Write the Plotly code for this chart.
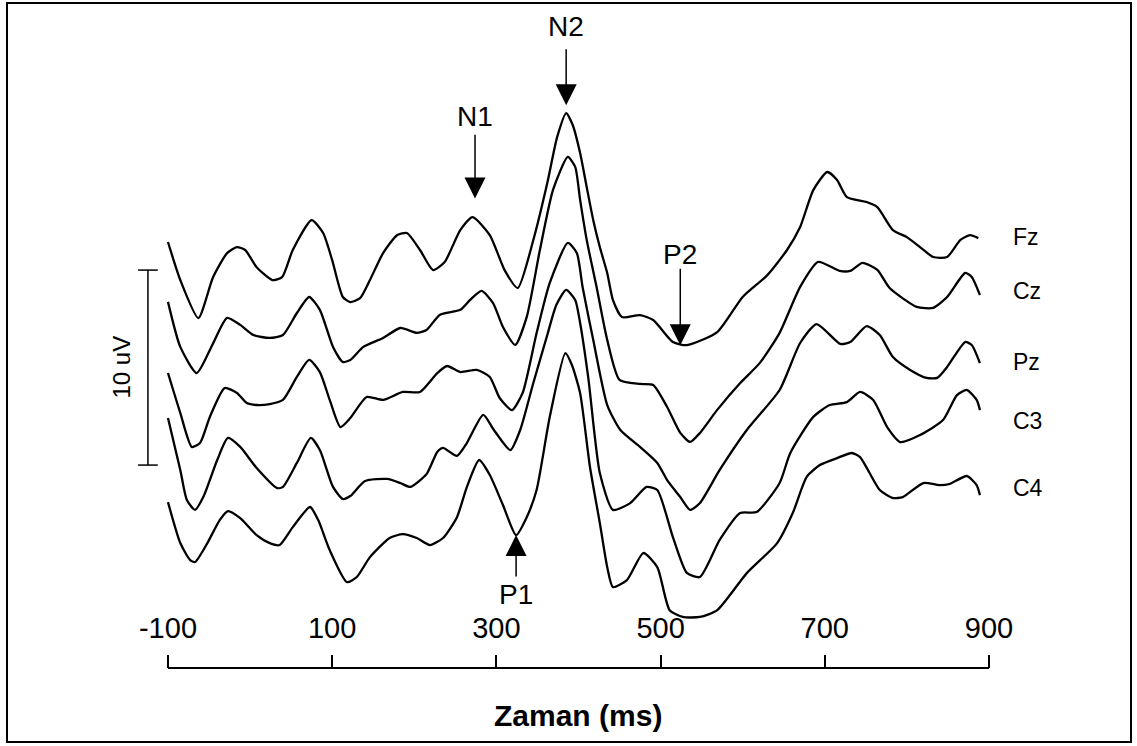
import plotly.graph_objects as go

# ---------------- data (time in ms, amplitude in uV; negative = up) ----------------
CHANNELS = ["Fz", "Cz", "Pz", "C3", "C4"]

FZ_T = [-100, -85, -63, -45, -28, -16, -6, 8, 27, 39, 52, 75, 89, 100, 113, 122, 134, 146, 162, 179,
        191, 207, 223, 237, 256, 271, 292, 310, 326, 345, 362, 374, 385, 393, 402, 410, 418, 426, 435, 442,
        453, 475, 491, 515, 532, 569, 600, 630, 654, 670, 686, 703, 715, 727, 751, 764, 783, 800, 816, 832,
        849, 865, 877, 887]
FZ_V = [-1.44, 0.51, 2.46, 0.36, -0.87, -1.18, -1.03, -0.15, 0.51, 0.36, -1.03, -2.56, -1.90, -0.51, 1.38,
        1.64, 1.44, 0.51, -0.87, -1.79, -1.90, -1.03, 0.00, -0.41, -2.05, -2.72, -1.79, 0.00, 0.92, -1.54,
        -4.46, -6.82, -8.05, -7.44, -6.00, -4.26, -2.56, -1.18, 0.15, 1.54, 2.41, 2.31, 2.56, 3.69, 3.85,
        3.18, 1.38, 0.26, -1.03, -2.21, -4.10, -5.03, -4.62, -3.74, -3.49, -3.23, -2.05, -1.69, -1.18, -0.67,
        -0.67, -1.54, -1.79, -1.64]

CZ_T = [-100, -85, -65, -46, -28, -12, 4, 24, 40, 57, 72, 85, 101, 113, 122, 138, 162, 183, 203, 215,
        231, 256, 268, 282, 296, 308, 323, 337, 353, 369, 387, 396, 402, 410, 422, 435, 450, 475, 491, 508,
        524, 536, 548, 569, 597, 621, 645, 670, 692, 718, 731, 746, 764, 779, 812, 832, 849, 871, 879, 889]
CZ_V = [-1.44, 0.87, 2.21, 0.77, -0.62, -0.26, 0.26, 0.41, 0.26, -0.87, -1.69, -1.03, 0.87, 1.64, 1.54,
        0.87, 0.41, -0.10, 0.15, 0.00, -0.77, -1.03, -1.54, -2.00, -1.38, -0.15, 0.77, -0.67, -4.10, -7.18,
        -8.87, -8.36, -6.67, -4.62, -2.21, 0.51, 2.56, 2.77, 2.82, 3.95, 5.28, 5.74, 5.28, 4.10, 2.72,
        1.69, 0.15, -2.21, -3.49, -3.03, -3.03, -3.44, -3.08, -2.15, -1.18, -1.13, -1.69, -2.92, -2.72, -1.79]

PZ_T = [-100, -85, -71, -61, -49, -31, -16, -4, 8, 24, 40, 57, 72, 85, 97, 110, 122, 142, 162, 186,
        207, 228, 240, 256, 276, 292, 304, 319, 332, 349, 365, 387, 398, 405, 418, 435, 451, 475, 496, 508,
        524, 536, 548, 572, 605, 645, 670, 690, 719, 731, 751, 767, 783, 804, 824, 837, 849, 871, 879, 889]
PZ_V = [-0.87, 1.18, 2.92, 2.72, 1.38, -0.10, 0.15, 0.67, 0.77, 0.72, 0.51, -0.67, -1.54, -0.92, 0.51,
        1.90, 1.44, 0.36, 0.51, 0.10, 0.10, -0.87, -1.23, -0.92, -1.03, -0.67, 0.41, 1.03, 0.15, -2.92,
        -5.49, -7.54, -7.03, -5.28, -2.56, 0.77, 2.05, 2.92, 3.74, 4.62, 5.49, 6.15, 5.79, 4.10, 2.05,
        0.00, -2.41, -3.38, -2.36, -2.46, -3.28, -2.82, -1.69, -1.03, -0.62, -0.62, -1.18, -2.46, -2.31, -1.38]

C3_T = [-100, -85, -77, -67, -57, -40, -27, -12, 8, 33, 40, 57, 74, 85, 101, 113, 122, 140, 167, 183,
        195, 215, 228, 235, 252, 264, 284, 297, 317, 329, 345, 362, 373, 385, 396, 402, 412, 426, 442, 463,
        483, 496, 515, 532, 548, 572, 597, 617, 645, 658, 686, 706, 727, 743, 759, 776, 792, 816, 844, 861,
        873, 885, 889]
C3_V = [-2.15, 0.51, 2.05, 2.56, 1.90, 0.00, -1.13, -0.67, 0.41, 1.44, 1.38, 0.15, -1.13, -0.51, 1.38,
        2.00, 1.85, 1.08, 0.97, 1.18, 1.38, 0.72, -0.41, -0.62, -0.21, -0.87, -2.31, -1.54, -0.51, -1.54,
        -3.95, -6.41, -7.95, -8.72, -8.21, -7.03, -4.20, 0.67, 2.56, 2.21, 1.38, 1.54, 3.95, 5.79, 6.00,
        4.10, 2.72, 2.67, 1.18, -0.36, -2.21, -2.82, -2.97, -3.49, -3.08, -1.69, -0.92, -1.28, -2.05, -3.33,
        -3.59, -3.08, -2.56]

C4_T = [-100, -85, -73, -67, -52, -37, -27, -12, 8, 24, 36, 52, 73, 83, 97, 118, 130, 146, 170, 186,
        203, 219, 235, 252, 264, 279, 292, 308, 324, 337, 349, 365, 384, 392, 402, 414, 426, 435, 442, 459,
        479, 496, 511, 527, 548, 569, 605, 642, 661, 678, 694, 715, 733, 743, 767, 783, 795, 820, 840, 852,
        873, 885, 889]
C4_V = [-0.92, 1.18, 2.05, 2.15, 1.18, 0.00, -0.46, -0.10, 0.77, 1.18, 1.28, 0.36, -0.67, 0.00, 1.54,
        3.18, 2.92, 1.90, 0.92, 0.72, 0.92, 1.28, 0.92, -0.15, -1.69, -3.08, -2.31, -0.77, 0.77, -0.15,
        -1.54, -5.28, -8.56, -7.95, -6.51, -2.72, 0.15, 2.41, 3.44, 3.08, 1.69, 2.41, 4.62, 4.97, 4.97,
        4.62, 2.72, 1.18, -0.36, -2.21, -2.82, -3.18, -3.44, -3.23, -1.54, -1.13, -1.18, -1.90, -1.79, -1.85,
        -2.26, -1.79, -1.28]

TICK_VALUES = [-100, 100, 300, 500, 700, 900]
TICK_LABELS = ["-100", "100", "300", "500", "700", "900"]
X_TITLE = "Zaman (ms)"
SCALE_LABEL = "10 uV"
SCALE_UV = 10

# components: (label, latency ms, channel)
COMPONENTS = [("N1", 274, "Fz"), ("N2", 385, "Fz"), ("P2", 524, "Fz"), ("P1", 324, "C4")]

# ---------------- presentation ----------------
SERIES = {"Fz": (FZ_T, FZ_V), "Cz": (CZ_T, CZ_V), "Pz": (PZ_T, PZ_V),
          "C3": (C3_T, C3_V), "C4": (C4_T, C4_V)}
OFFSETS = {"Fz": 13.85, "Cz": 16.92, "Pz": 20.0, "C3": 23.59, "C4": 26.67}
LABEL_Y = {"Fz": 12.15, "Cz": 14.92, "Pz": 18.56, "C3": 21.59, "C4": 25.03}
FONT = "Liberation Sans, Arial, Helvetica, sans-serif"

W, H = 1137, 746
MB = 78
PLOT_H = H - MB
PX_PER_UV = 19.5
X_RANGE = [-304.6, 1080.3]
Y_RANGE = [PLOT_H / PX_PER_UV, 0]

fig = go.Figure()
for ch in CHANNELS:
    t, v = SERIES[ch]
    assert len(t) == len(v), ch
    fig.add_trace(go.Scatter(
        x=t, y=[OFFSETS[ch] + a for a in v], mode="lines", name=ch,
        line=dict(color="black", width=2.3, shape="spline", smoothing=0.6),
        hoverinfo="skip", showlegend=False))

annotations = []
shapes = []

# channel labels
for ch in CHANNELS:
    annotations.append(dict(x=927, y=LABEL_Y[ch], xref="x", yref="y", text=ch, showarrow=False,
                            xanchor="left", yanchor="middle",
                            font=dict(family=FONT, size=23, color="black")))

# component arrows
ARROW_STYLE = {  # tip gap from curve (uV units), shaft length, label gap (down=+)
    "N1": (-0.95, -3.35, -4.2),
    "N2": (-0.4, -2.95, -4.05),
    "P2": (0.0, -4.0, -4.67),
    "P1": (0.0, 2.2, 3.07),
}
for lab, lat, ch in COMPONENTS:
    t, v = SERIES[ch]
    i = min(range(len(t)), key=lambda k: abs(t[k] - lat))
    base = OFFSETS[ch] + v[i]
    gap, shaft, lgap = ARROW_STYLE[lab]
    tip = base + gap
    annotations.append(dict(x=lat, y=tip, ax=lat, ay=tip + shaft, xref="x", yref="y",
                            axref="x", ayref="y", text="", showarrow=True, arrowhead=2,
                            arrowsize=2.8, arrowwidth=1.5, arrowcolor="black", standoff=0))
    annotations.append(dict(x=lat, y=tip + lgap, xref="x", yref="y", text=lab, showarrow=False,
                            xanchor="center", yanchor="middle",
                            font=dict(family=FONT, size=28, color="black")))

# scale bar (10 uV)
SB_X = -124.4
SB_TOP = 13.85
shapes.append(dict(type="line", xref="x", yref="y", x0=SB_X, x1=SB_X, y0=SB_TOP, y1=SB_TOP + SCALE_UV,
                   line=dict(color="black", width=1.5)))
for yy in (SB_TOP, SB_TOP + SCALE_UV):
    shapes.append(dict(type="line", xref="x", yref="y", x0=SB_X - 12, x1=SB_X + 12, y0=yy, y1=yy,
                       line=dict(color="black", width=1.5)))
annotations.append(dict(x=-156, y=SB_TOP + SCALE_UV / 2, xref="x", yref="y", text=SCALE_LABEL,
                        showarrow=False, textangle=-90, xanchor="center", yanchor="middle",
                        font=dict(family=FONT, size=24, color="black")))

# time axis base line
shapes.append(dict(type="line", xref="x", yref="paper", x0=TICK_VALUES[0], x1=TICK_VALUES[-1],
                   y0=0, y1=0, line=dict(color="black", width=2)))

# axis title
annotations.append(dict(x=(TICK_VALUES[0] + TICK_VALUES[-1]) / 2, y=1 - 716 / PLOT_H, xref="x", yref="paper",
                        text="<b>" + X_TITLE + "</b>", showarrow=False, xanchor="center", yanchor="middle",
                        font=dict(family=FONT, size=30, color="black")))

# frame
shapes.append(dict(type="rect", xref="paper", yref="paper", x0=7 / W, x1=1131 / W,
                   y0=1 - 742 / PLOT_H, y1=1 - 3 / PLOT_H, line=dict(color="black", width=2),
                   fillcolor="rgba(0,0,0,0)"))

fig.update_layout(
    width=W, height=H,
    margin=dict(l=0, r=0, t=0, b=MB, pad=0),
    paper_bgcolor="white", plot_bgcolor="white",
    showlegend=False,
    shapes=shapes, annotations=annotations,
    xaxis=dict(range=X_RANGE, tickmode="array", tickvals=TICK_VALUES, ticktext=TICK_LABELS,
               ticks="inside", ticklen=13, tickwidth=2, tickcolor="black",
               ticklabelposition="inside", ticklabelstandoff=14,
               tickfont=dict(family=FONT, size=29, color="black"),
               showline=False, showgrid=False, zeroline=False, fixedrange=True),
    yaxis=dict(range=Y_RANGE, visible=False, showgrid=False, zeroline=False, fixedrange=True),
)

fig.write_html("out.html", config={"displayModeBar": False, "staticPlot": True},
               post_script="document.body.style.margin='0';document.body.style.overflow='hidden';")
